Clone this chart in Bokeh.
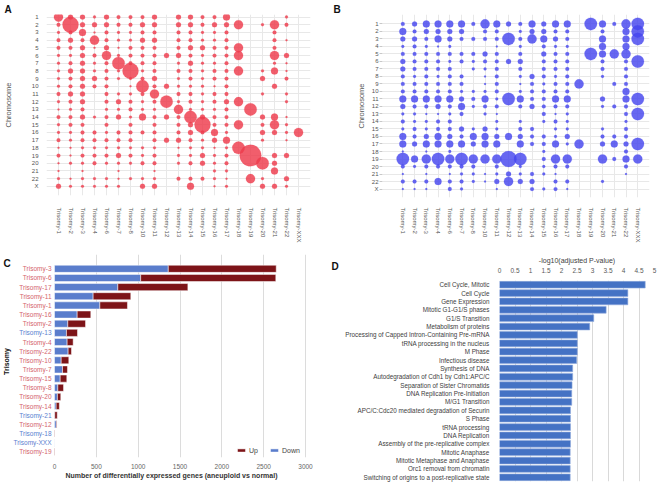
import math
from bokeh.plotting import figure
from bokeh.layouts import column, row
from bokeh.models import (Range1d, FixedTicker, Label, ColumnDataSource,
                          Legend, LegendItem, FactorRange, NumeralTickFormatter)
from bokeh.core.properties import value
from bokeh.embed import file_html
from bokeh.resources import INLINE

FONT = "Liberation Sans"

# ---------------- data ----------------
trisomy_cols = ["Trisomy-1", "Trisomy-2", "Trisomy-3", "Trisomy-4", "Trisomy-6", "Trisomy-7",
                "Trisomy-8", "Trisomy-10", "Trisomy-11", "Trisomy-12", "Trisomy-13", "Trisomy-14",
                "Trisomy-15", "Trisomy-16", "Trisomy-17", "Trisomy-18", "Trisomy-19", "Trisomy-20",
                "Trisomy-21", "Trisomy-22", "Trisomy-XXX"]
chromosomes = [str(i) for i in range(1, 23)] + ["X"]

# Panel A: up-regulated genes per chromosome (relative bubble magnitude 0-9)
up_levels = [
    [6, 4, 4, 2, 4, 3, 3, 3, 4, 0, 4, 4, 3, 3, 5, 0, 0, 0, 0, 2, 0],
    [3, 8, 4, 4, 4, 3, 3, 4, 4, 0, 4, 4, 3, 4, 4, 6, 0, 2, 6, 3, 0],
    [2, 3, 5, 1, 3, 2, 2, 3, 3, 0, 3, 3, 2, 2, 3, 0, 0, 0, 3, 0, 0],
    [3, 4, 3, 6, 3, 2, 2, 4, 4, 0, 3, 3, 2, 2, 3, 0, 0, 0, 3, 1, 0],
    [3, 3, 4, 1, 4, 1, 3, 3, 3, 0, 3, 4, 4, 3, 3, 6, 0, 0, 3, 0, 0],
    [2, 2, 4, 3, 6, 2, 3, 3, 3, 4, 4, 3, 2, 3, 3, 6, 0, 0, 6, 4, 0],
    [2, 3, 4, 2, 3, 7, 3, 3, 3, 0, 2, 4, 2, 2, 3, 0, 0, 0, 2, 1, 0],
    [2, 4, 4, 2, 3, 2, 8, 2, 3, 0, 3, 3, 2, 3, 3, 6, 0, 2, 5, 1, 0],
    [2, 3, 4, 4, 3, 2, 2, 3, 4, 0, 2, 3, 2, 3, 3, 0, 0, 4, 0, 3, 0],
    [2, 3, 4, 3, 3, 0, 1, 7, 3, 4, 2, 2, 2, 1, 3, 0, 0, 0, 4, 0, 0],
    [3, 4, 4, 0, 3, 2, 2, 3, 6, 0, 3, 3, 2, 3, 3, 0, 0, 2, 0, 2, 0],
    [2, 3, 4, 0, 3, 4, 3, 2, 3, 7, 2, 3, 2, 3, 4, 6, 0, 0, 0, 2, 0],
    [1, 2, 3, 0, 2, 2, 3, 2, 2, 0, 6, 2, 2, 2, 3, 0, 7, 0, 0, 0, 0],
    [3, 3, 4, 2, 3, 4, 2, 5, 3, 4, 3, 7, 4, 3, 3, 0, 0, 4, 5, 1, 0],
    [2, 3, 3, 0, 3, 0, 3, 0, 3, 0, 3, 4, 8, 3, 3, 6, 0, 3, 6, 2, 0],
    [2, 2, 3, 3, 2, 3, 3, 3, 3, 0, 3, 4, 3, 5, 2, 0, 0, 4, 4, 2, 6],
    [3, 2, 3, 3, 3, 3, 3, 0, 3, 4, 4, 3, 2, 4, 5, 0, 0, 2, 0, 1, 0],
    [1, 1, 2, 2, 2, 2, 2, 2, 2, 0, 1, 2, 2, 1, 2, 7, 0, 0, 0, 0, 0],
    [3, 1, 3, 3, 3, 4, 3, 2, 3, 0, 2, 2, 4, 2, 3, 0, 9, 0, 4, 4, 0],
    [1, 2, 2, 3, 2, 2, 2, 3, 3, 0, 2, 3, 4, 2, 3, 0, 0, 7, 4, 0, 0],
    [1, 0, 1, 0, 0, 1, 0, 0, 1, 0, 0, 0, 0, 2, 2, 0, 0, 0, 5, 0, 0],
    [2, 1, 2, 2, 2, 1, 2, 2, 2, 0, 3, 3, 3, 2, 1, 0, 6, 2, 0, 4, 0],
    [4, 2, 2, 2, 2, 2, 0, 4, 4, 0, 0, 5, 0, 1, 2, 0, 0, 4, 4, 2, 0],
]

# Panel B: down-regulated genes per chromosome (relative bubble magnitude 0-9)
down_levels = [
    [3, 4, 5, 5, 5, 5, 3, 6, 5, 4, 3, 5, 4, 5, 5, 0, 7, 5, 3, 6, 7],
    [5, 3, 4, 4, 4, 4, 0, 3, 3, 0, 2, 4, 4, 3, 3, 0, 0, 3, 0, 5, 7],
    [4, 4, 3, 5, 4, 3, 3, 3, 3, 7, 3, 6, 5, 4, 3, 0, 0, 5, 0, 5, 7],
    [2, 3, 2, 1, 2, 0, 0, 0, 1, 0, 2, 0, 3, 2, 2, 0, 0, 5, 0, 5, 0],
    [3, 3, 3, 3, 3, 3, 3, 4, 3, 0, 3, 0, 4, 3, 3, 0, 7, 5, 6, 6, 0],
    [4, 3, 3, 3, 2, 3, 2, 3, 3, 4, 4, 0, 3, 3, 3, 0, 0, 3, 0, 3, 7],
    [4, 3, 3, 3, 3, 0, 2, 2, 3, 0, 3, 0, 3, 3, 3, 0, 0, 3, 0, 3, 0],
    [3, 2, 3, 2, 3, 3, 0, 1, 3, 0, 2, 4, 3, 2, 3, 0, 0, 2, 0, 3, 0],
    [3, 3, 3, 3, 3, 3, 0, 1, 3, 0, 1, 3, 2, 3, 3, 6, 0, 0, 3, 3, 0],
    [3, 3, 3, 3, 3, 2, 2, 2, 3, 0, 2, 3, 3, 3, 3, 0, 0, 0, 0, 5, 0],
    [5, 5, 5, 5, 5, 4, 3, 5, 2, 7, 5, 3, 3, 5, 5, 0, 0, 4, 0, 5, 7],
    [4, 3, 3, 4, 3, 5, 2, 3, 3, 0, 3, 4, 3, 3, 3, 0, 0, 2, 3, 3, 0],
    [2, 2, 1, 1, 2, 3, 0, 2, 1, 0, 0, 0, 3, 1, 2, 0, 0, 0, 0, 3, 7],
    [3, 2, 2, 3, 3, 0, 0, 0, 2, 0, 2, 0, 2, 3, 2, 0, 0, 0, 0, 2, 0],
    [2, 3, 2, 3, 3, 4, 2, 4, 2, 0, 3, 3, 0, 2, 2, 0, 0, 2, 0, 3, 0],
    [5, 3, 4, 5, 4, 3, 5, 5, 4, 5, 4, 3, 3, 2, 4, 0, 0, 3, 3, 3, 0],
    [5, 4, 5, 5, 5, 5, 4, 5, 5, 0, 5, 3, 3, 5, 2, 6, 0, 4, 5, 4, 7],
    [1, 0, 1, 0, 2, 0, 0, 0, 0, 0, 0, 0, 2, 0, 0, 0, 0, 0, 0, 3, 0],
    [7, 5, 6, 7, 6, 7, 6, 6, 6, 8, 7, 0, 3, 6, 6, 0, 0, 6, 3, 5, 6],
    [3, 2, 3, 3, 3, 3, 3, 0, 3, 0, 2, 0, 2, 3, 3, 0, 0, 0, 0, 3, 0],
    [1, 0, 1, 0, 1, 2, 2, 1, 2, 4, 2, 3, 2, 1, 0, 0, 0, 0, 0, 1, 0],
    [3, 3, 3, 5, 3, 3, 2, 1, 4, 6, 4, 4, 0, 3, 3, 0, 0, 2, 0, 0, 0],
    [1, 1, 1, 0, 3, 2, 0, 0, 1, 0, 0, 3, 2, 3, 1, 0, 0, 0, 0, 0, 0],
]

# bubble diameter (px) for each magnitude level
level_size = [0, 2.0, 2.9, 3.8, 5.0, 7.0, 9.2, 12.5, 16.0, 21.5]

# Panel C: number of differentially expressed genes
c_trisomy = ["Trisomy-3", "Trisomy-6", "Trisomy-17", "Trisomy-11", "Trisomy-1", "Trisomy-16",
             "Trisomy-2", "Trisomy-13", "Trisomy-4", "Trisomy-22", "Trisomy-10", "Trisomy-7",
             "Trisomy-15", "Trisomy-8", "Trisomy-20", "Trisomy-14", "Trisomy-21", "Trisomy-12",
             "Trisomy-18", "Trisomy-XXX", "Trisomy-19"]
c_down = [1360, 1030, 757, 462, 542, 271, 159, 143, 151, 163, 80, 96, 68, 40, 35, 20, 3, 22, 2, 4, 1]
c_up = [1290, 1615, 837, 450, 330, 163, 212, 132, 72, 40, 91, 59, 79, 68, 40, 38, 30, 8, 4, 0, 5]
c_blue_names = ["Trisomy-13", "Trisomy-21", "Trisomy-18", "Trisomy-XXX"]
c_ticks = [0, 500, 1000, 1500, 2000, 2500, 3000]

# Panel D: enriched pathways
pathways = ["Cell Cycle, Mitotic", "Cell Cycle", "Gene Expression", "Mitotic G1-G1/S phases",
            "G1/S Transition", "Metabolism of proteins",
            "Processing of Capped Intron-Containing Pre-mRNA", "tRNA processing in the nucleus",
            "M Phase", "Infectious disease", "Synthesis of DNA",
            "Autodegradation of Cdh1 by Cdh1:APC/C", "Separation of Sister Chromatids",
            "DNA Replication Pre-Initiation", "M/G1 Transition",
            "APC/C:Cdc20 mediated degradation of Securin", "S Phase", "tRNA processing",
            "DNA Replication", "Assembly of the pre-replicative complex", "Mitotic Anaphase",
            "Mitotic Metaphase and Anaphase", "Orc1 removal from chromatin",
            "Switching of origins to a post-replicative state"]
neglog_p = [4.70, 4.14, 4.14, 3.44, 3.04, 2.91, 2.51, 2.51, 2.51, 2.49, 2.36, 2.36, 2.34,
            2.33, 2.33, 2.29, 2.29, 2.29, 2.29, 2.29, 2.28, 2.28, 2.28, 2.28]
d_ticks = [0, 0.5, 1, 1.5, 2, 2.5, 3, 3.5, 4, 4.5, 5]


# ---------------- helpers ----------------
def clean_axis(ax):
    ax.axis_line_color = None
    ax.major_tick_line_color = None
    ax.minor_tick_line_color = None
    ax.major_label_text_font = FONT
    ax.axis_label_text_font = FONT
    ax.axis_label_text_font_style = "normal"


def letter_title(p, text, offset, size="10px"):
    p.title.text = text
    p.title.align = "left"
    p.title.offset = offset
    p.title.standoff = 0
    p.title.text_font = FONT
    p.title.text_font_style = "bold"
    p.title.text_font_size = size
    p.title.text_color = "#111111"


def bubble_panel(levels, color, size, borders, xr, yr, tick_out, ylab_standoff, xlab_standoff):
    w, h = size
    left, right, top, bottom = borders
    p = figure(width=w, height=h, x_range=Range1d(*xr), y_range=Range1d(*yr),
               min_border_left=left, min_border_right=right, min_border_top=top,
               min_border_bottom=bottom, toolbar_location=None, output_backend="svg",
               frame_align=False)
    p.outline_line_color = None
    xs, ys, ss = [], [], []
    for r, vals in enumerate(levels):
        for c, lv in enumerate(vals):
            if lv > 0:
                xs.append(c)
                ys.append(r)
                ss.append(level_size[lv])
    src = ColumnDataSource(dict(x=xs, y=ys, s=ss))
    p.scatter("x", "y", size="s", source=src, fill_color=color, fill_alpha=0.82,
              line_color=color, line_alpha=0.35, line_width=0.5)
    xt = FixedTicker(ticks=list(range(len(trisomy_cols))))
    yt = FixedTicker(ticks=list(range(len(chromosomes))))
    p.xaxis.ticker = xt
    p.yaxis.ticker = yt
    p.xgrid.ticker = xt
    p.ygrid.ticker = yt
    p.xgrid.grid_line_color = "#e8e8e8"
    p.ygrid.grid_line_color = "#e8e8e8"
    clean_axis(p.xaxis[0])
    clean_axis(p.yaxis[0])
    p.xaxis.major_label_overrides = {i: t for i, t in enumerate(trisomy_cols)}
    p.xaxis.major_label_orientation = -math.pi / 2
    p.xaxis.major_label_text_font_size = "6px"
    p.xaxis.major_label_text_color = "#555555"
    p.xaxis.major_label_standoff = xlab_standoff
    p.yaxis.major_label_overrides = {i: t for i, t in enumerate(chromosomes)}
    p.yaxis.major_label_text_font_size = "6px"
    p.yaxis.major_label_text_color = "#555555"
    p.yaxis.axis_label = "Chromosome"
    p.yaxis.axis_label_text_font_size = "7.5px"
    p.yaxis.axis_label_text_color = "#555555"
    p.yaxis.axis_label_standoff = ylab_standoff
    if tick_out:
        p.yaxis.major_tick_out = tick_out
        p.yaxis.major_tick_in = 0
        p.yaxis.major_tick_line_color = "#c8c8c8"
        p.yaxis.major_label_standoff = 1
    else:
        p.yaxis.major_label_standoff = 2
    return p


# ---------------- panel A ----------------
pA = bubble_panel(up_levels, "#ee3a4c", (330, 245), (45, 20, 14, 39), (-1, 21),
                  (23.19, -0.331), 0, 16, 6)
letter_title(pA, "A", -42)

# ---------------- panel B ----------------
pB = bubble_panel(down_levels, "#4545ee", (330, 245), (52, 11, 14, 37), (-1.73, 21.0),
                  (23.13, -1.258), 3, 3, 4)
letter_title(pB, "B", -49)

# ---------------- panel C ----------------
n_c = len(c_trisomy)
c_idx = list(range(n_c))
c_total = [d + u for d, u in zip(c_down, c_up)]
c_colors = ["#5b80cf" if t in c_blue_names else "#d4636c" for t in c_trisomy]
srcC = ColumnDataSource(dict(y=c_idx, down=c_down, total=c_total, name=c_trisomy,
                             col=c_colors, zero=[0] * n_c))
pC = figure(width=342, height=239, x_range=Range1d(-645.4, 3442.2),
            y_range=Range1d(20.623, -1.563),
            min_border_left=0, min_border_right=0, min_border_top=9, min_border_bottom=27,
            toolbar_location=None, output_backend="svg", frame_align=False)
pC.outline_line_color = None
r_down = pC.hbar(y="y", left="zero", right="down", height=0.78, source=srcC,
                 fill_color="#5a7dcc", line_color="#ffffff", line_width=0.5)
r_up = pC.hbar(y="y", left="down", right="total", height=0.78, source=srcC,
               fill_color="#7d1418", line_color="#ffffff", line_width=0.5)
pC.text(x="zero", y="y", text="name", source=srcC, x_offset=-3, text_color="col",
        text_font=value(FONT), text_font_size=value("6.5px"), text_align="right",
        text_baseline="middle")
pC.yaxis.visible = False
pC.ygrid.grid_line_color = None
xtC = FixedTicker(ticks=c_ticks)
pC.xaxis.ticker = xtC
pC.xaxis.bounds = (0, 3000)
pC.xgrid.ticker = FixedTicker(ticks=c_ticks[1:])
pC.xgrid.grid_line_color = "#dcdcdc"
clean_axis(pC.xaxis[0])
pC.xaxis.major_label_text_font_size = "6.5px"
pC.xaxis.major_label_text_color = "#666666"
pC.xaxis.major_label_standoff = 0
pC.xaxis.axis_label = "Number of differentially expressed genes (aneuploid vs normal)"
pC.xaxis.axis_label_text_font_size = "7px"
pC.xaxis.axis_label_text_font_style = "bold"
pC.xaxis.axis_label_text_color = "#333333"
pC.xaxis.axis_label_standoff = 0
pC.add_layout(Label(x=6, y=96, x_units="screen", y_units="screen", text="Trisomy",
                    angle=math.pi / 2, text_font=FONT, text_font_style="bold",
                    text_font_size="7px", text_color="#111111", text_align="center",
                    text_baseline="middle"))
for txt, lx, ly in (("C", 3, 200), ("D", 331, 197)):
    pC.add_layout(Label(x=lx, y=ly, x_units="screen", y_units="screen", text=txt,
                        text_font=FONT, text_font_style="bold", text_font_size="10px",
                        text_color="#111111", text_align="left", text_baseline="top"))
legC = Legend(items=[LegendItem(label="Up", renderers=[r_up]),
                     LegendItem(label="Down", renderers=[r_down])],
              orientation="horizontal", location=(236, 3), glyph_width=10, glyph_height=4,
              label_height=8, label_width=10, label_text_font=FONT,
              label_text_font_size="7px", label_text_color="#444444", padding=0, margin=0,
              spacing=10, label_standoff=3, background_fill_alpha=0,
              border_line_color=None)
pC.add_layout(legC)

# ---------------- panel D ----------------
pD = figure(width=318, height=239, x_range=Range1d(0, 5),
            y_range=FactorRange(factors=list(reversed(pathways))), x_axis_location="above",
            min_border_left=156, min_border_right=6, min_border_top=35, min_border_bottom=3,
            toolbar_location=None, output_backend="svg", frame_align=False)
pD.outline_line_color = None
pD.hbar(y=pathways, right=neglog_p, left=0, height=0.8, fill_color="#4472c4",
        line_color="#8eaadb", line_width=0.6)
xtD = FixedTicker(ticks=d_ticks)
pD.xaxis.ticker = xtD
pD.xgrid.ticker = xtD
pD.xgrid.grid_line_color = "#d9d9d9"
pD.ygrid.grid_line_color = None
clean_axis(pD.xaxis[0])
clean_axis(pD.yaxis[0])
pD.xaxis.formatter = NumeralTickFormatter(format="0.[0]")
pD.xaxis.major_label_text_font_size = "6.5px"
pD.xaxis.major_label_text_color = "#595959"
pD.xaxis.major_label_standoff = 2
pD.xaxis.axis_label = "-log10(adjusted P-value)"
pD.xaxis.axis_label_text_font_size = "7px"
pD.xaxis.axis_label_text_color = "#404040"
pD.xaxis.axis_label_standoff = 1
pD.yaxis.major_label_text_font_size = "6.3px"
pD.yaxis.major_label_text_color = "#404040"
pD.yaxis.major_label_standoff = 4

layout = column(row(pA, pB), row(pC, pD))
open("out.html", "w").write(file_html(layout, INLINE))
